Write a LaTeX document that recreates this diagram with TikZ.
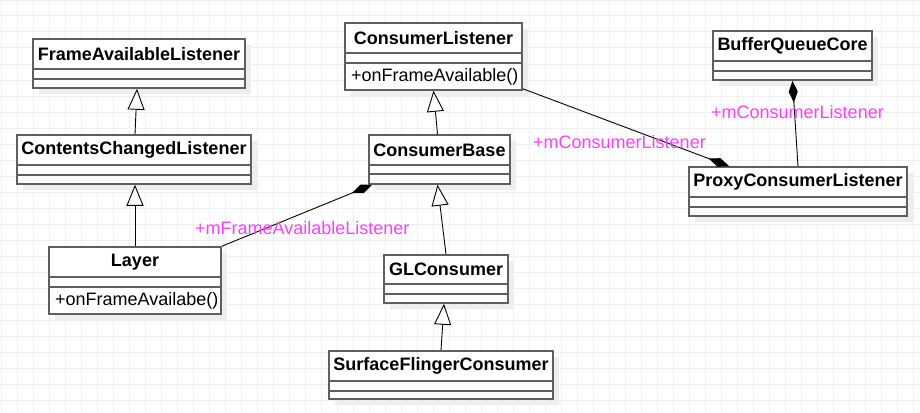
\documentclass[tikz,border=0pt]{standalone}
\usepackage{fontspec}
\setmainfont{Liberation Sans}
\usetikzlibrary{arrows.meta}
\usetikzlibrary{fit}
\definecolor{rollfarg}{HTML}{FF40FF}
\definecolor{ramfarg}{HTML}{5F5F5F}
\definecolor{rutfarg}{HTML}{EFEFEF}
\definecolor{skuggfarg}{HTML}{EEEEEE}

\tikzset{
	classbox/.style={draw=ramfarg, line width=1.5pt, fill=white, inner sep=0pt},
	classline/.style={draw=ramfarg, line width=1.5pt},
	classname/.style={font=\fontsize{18}{21}\selectfont\bfseries, inner sep=0pt},
	classop/.style={font=\fontsize{18}{21}\selectfont, inner sep=0pt, anchor=west},
	rolename/.style={font=\fontsize{18}{21}\selectfont, text=rollfarg, inner sep=0pt, anchor=west},
	inherit/.style={-{Triangle[open, fill=white, length=21pt, width=17pt]}, line width=0.9pt},
	compose/.style={-{Diamond[length=22pt, width=9pt]}, line width=0.9pt},
}

% namn, x1, y1, x2, y2, delning 1, delning 2, rubrik
\newcommand{\umlclass}[8]{%
	\fill[skuggfarg] (#2+6,#3+6) rectangle (#4+6,#5+6);
	\node[classbox, fit={(#2,#3) (#4,#5)}] (#1) {};
	\draw[classline] (#2,#6) -- (#4,#6);
	\draw[classline] (#2,#7) -- (#4,#7);
	\node[classname] (#1-name) at ({(#2+#4)/2}, {(#3+#6)/2}) {#8};
}

\begin{document}
\begin{tikzpicture}[x=1pt, y=-1pt]
		\useasboundingbox (0, 0) rectangle (920, 412);
		\begin{scope}
			\clip (0, 0) rectangle (920, 412);
			\draw[rutfarg, line width=1pt, xshift=1pt] (-16, 0) grid[step=16pt] (928, 416); % Rutnät
		\end{scope}
		
		\umlclass{fal}{33}{39}{245}{88}{69}{79}{FrameAvailableListener}
		\umlclass{ccl}{17}{135}{251}{184}{165}{175}{ContentsChangedListener}
		\umlclass{cl}{345}{23}{522}{90}{53}{63}{ConsumerListener}
		\umlclass{cb}{369}{135}{510}{184}{165}{174}{ConsumerBase}
		\umlclass{bqc}{713}{31}{872}{80}{61}{71}{BufferQueueCore}
		\umlclass{pcl}{689}{167}{907}{216}{197}{207}{ProxyConsumerListener}
		\umlclass{layer}{49}{247}{221}{314}{277}{287}{Layer}
		\umlclass{gl}{384}{255}{508}{303}{284}{294}{GLConsumer}
		\umlclass{sfc}{329}{351}{553}{399}{381}{391}{SurfaceFlingerConsumer}
		
		\node[classop] (cl-op) at (351, 77) {+onFrameAvailable()}; % Metoder
		\node[classop] (layer-op) at (55, 301) {+onFrameAvailabe()};
		
		\draw[inherit] ([xshift=1pt]ccl.north) -- ([xshift=-2pt]fal.south); % Arv
		\draw[inherit] (layer.north) -- (layer.north |- ccl.south);
		\draw[inherit] ([xshift=-2pt]cb.north) -- (cl.south);
		\draw[inherit] (gl.north) -- ([xshift=-2pt]cb.south);
		\draw[inherit] (sfc.north) -- ([xshift=-2pt]gl.south);
		
		\draw[compose] (layer.north east) -- ([xshift=4pt]cb.south west); % Komposition
		\draw[compose] ([yshift=2pt]cl.south east) -- ([xshift=41pt]pcl.north west);
		\draw[compose] (pcl.north) -- (bqc.south);
		
		\node[rolename] (role-fal) at (195, 228) {+mFrameAvailableListener}; % Rollnamn
		\node[rolename] (role-cl) at (533, 142) {+mConsumerListener};
		\node[rolename] (role-bqc) at (711, 112) {+mConsumerListener};
	\end{tikzpicture}
\end{document}
